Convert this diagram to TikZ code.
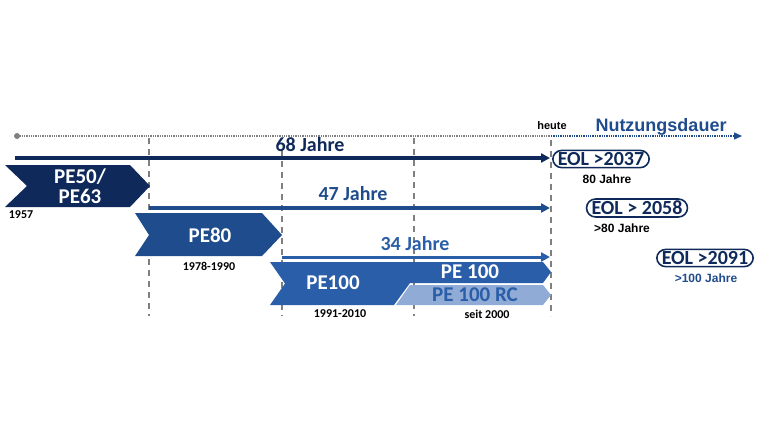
\documentclass[tikz,border=0pt]{standalone}
\usepackage{fontspec}
\setmainfont{Carlito}
\newfontfamily\arialfont{Liberation Sans}
\usetikzlibrary{arrows.meta,positioning}
\definecolor{navy}{HTML}{0F2A5A}
\definecolor{midblue}{HTML}{1F4C8C}
\definecolor{lightblue}{HTML}{2A5EA8}
\definecolor{paleblue}{HTML}{8FABD6}
\tikzset{span/.style={-{Triangle[length=9pt,width=9pt]},line width=4pt},
  spanlbl/.style={font=\bfseries\fontsize{20}{20}\selectfont},
  chevtxt/.style={text=white,font=\bfseries\fontsize{21}{20}\selectfont,align=center},
  yearlbl/.style={font=\bfseries\fontsize{12}{12}\selectfont},
  eol/.style={draw=navy,line width=1.6pt,rounded corners=9pt,text=navy,inner xsep=5pt,inner ysep=2pt,font=\bfseries\fontsize{20}{20}\selectfont},
  eolsub/.style={font=\arialfont\bfseries\fontsize{12}{12}\selectfont},
  grid/.style={gray,dashed,line width=1.3pt,dash pattern=on 6pt off 5pt}}
\begin{document}
\begin{tikzpicture}[x=1pt,y=-1pt]
\useasboundingbox (0,0) rectangle (760,440);

% Timeline
\coordinate (start) at (17,136);
\coordinate (today) at (551,136);
\coordinate (tlend) at (742,136);
\fill[gray] (start) circle (3);
\draw[gray,densely dotted,line width=1.3pt] (start) -- (today);
\draw[midblue,densely dotted,line width=1.3pt,-{Triangle[length=8pt,width=7pt]}] (today) -- (tlend);
\node[font=\arialfont\bfseries\fontsize{11}{11}\selectfont] (heute) at (552,126) {heute};
\node[font=\arialfont\bfseries\fontsize{18}{18}\selectfont,text=midblue] (nutz) at (661,127) {Nutzungsdauer};

% Grid lines
\foreach \gx/\gy in {149/138,282/150,414/138,551/140}
  \draw[grid] (\gx,\gy) -- (\gx,316);

% Chevrons
\fill[navy] (5,165) -- (130,165) -- (150,186) -- (130,207) -- (5,207) -- (27,186) -- cycle;
\node[chevtxt] (pe50) at (80,186) {PE50/\\PE63};
\node[yearlbl] (y57) at (21,215) {1957};
\fill[midblue] (135,213) -- (262,213) -- (282,235) -- (262,256) -- (135,256) -- (149,235) -- cycle;
\node[chevtxt] (pe80) at (210,235) {PE80};
\node[yearlbl] (y78) at (209,266) {1978-1990};
\fill[lightblue] (270,262) -- (543,262) -- (551,272) -- (543,283) -- (410,283) -- (394,305) -- (270,305) -- (285,283.5) -- cycle;
\fill[paleblue] (410,285) -- (543,285) -- (551,295) -- (543,305) -- (396,305) -- cycle;
\node[chevtxt] (pe100) at (333,283) {PE100};
\node[chevtxt] (pe100b) at (470,272) {PE 100};
\node[chevtxt,text=lightblue] (pe100rc) at (475,295) {PE 100 RC};
\node[yearlbl] (y91) at (340,314) {1991-2010};
\node[yearlbl] (y00) at (487,314) {seit 2000};

% Spans
\coordinate (s68) at (15,158);  \coordinate (e68) at (550,158);
\coordinate (s47) at (149,208); \coordinate (e47) at (550,208);
\coordinate (s34) at (282,257); \coordinate (e34) at (550,257);
\draw[span,navy] (s68) -- (e68);
\node[spanlbl,text=navy] (l68) at (310,145) {68 Jahre};
\draw[span,midblue,line width=3.5pt] (s47) -- (e47);
\node[spanlbl,text=midblue] (l47) at (353,194) {47 Jahre};
\draw[span,lightblue,line width=3pt] (s34) -- (e34);
\node[spanlbl,text=lightblue] (l34) at (415,244) {34 Jahre};

% End of life
\node[eol] (eol37) at (601,159) {EOL >2037};
\node[eolsub] (j80) at (607,179) {80 Jahre};
\node[eol] (eol58) at (637,208) {EOL > 2058};
\node[eolsub] (j80b) at (622,228) {>80 Jahre};
\node[eol] (eol91) at (705,258) {EOL >2091};
\node[eolsub,text=midblue] (j100) at (706,278) {>100 Jahre};
\end{tikzpicture}
\end{document}
